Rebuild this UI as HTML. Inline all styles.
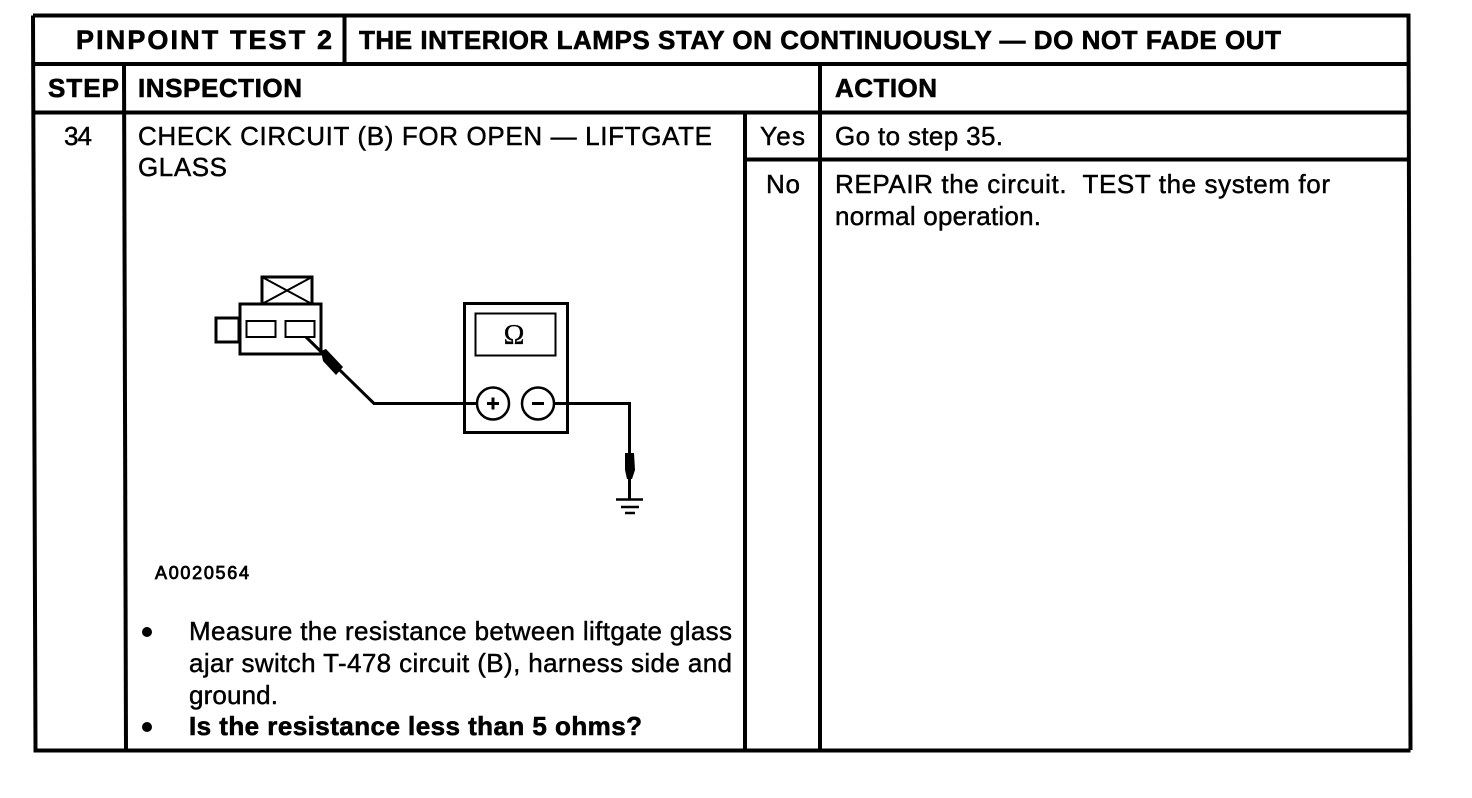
<!DOCTYPE html>
<html>
<head>
<meta charset="utf-8">
<style>
html,body{margin:0;padding:0;background:#fff;width:1472px;height:798px;overflow:hidden}
svg{display:block}
text{font-family:"Liberation Sans",Arial,sans-serif;fill:#000;font-size:26px;stroke:#000;stroke-width:.45px}
.b{font-weight:700;stroke-width:.6px}
</style>
</head>
<body>
<svg width="1472" height="798" viewBox="0 0 1472 798" xmlns="http://www.w3.org/2000/svg">
<rect width="1472" height="798" fill="#fff"/>
<g stroke="#000" fill="none">
  <!-- outer frame -->
  <path d="M33 15.500H1408.500L1410.500 750M33 15.500L35.500 750.500H1410.500" stroke-width="4"/>
  <!-- horizontal rules -->
  <path d="M33.500 64H1408.500" stroke-width="4"/>
  <path d="M34 112.500H1409" stroke-width="4"/>
  <path d="M745 159.500H1409" stroke-width="4"/>
  <!-- vertical rules -->
  <path d="M344.500 15V64" stroke-width="4"/>
  <path d="M124 64L126 750" stroke-width="4"/>
  <path d="M820 64V750" stroke-width="4"/>
  <path d="M745 112V750" stroke-width="4"/>
</g>

<text class="b" x="76" y="49" textLength="256" style="font-size:27px">PINPOINT TEST 2</text>
<text class="b" x="359" y="49" textLength="922">THE INTERIOR LAMPS STAY ON CONTINUOUSLY — DO NOT FADE OUT</text>
<text class="b" x="48" y="97" textLength="71">STEP</text>
<text class="b" x="138" y="97" textLength="164">INSPECTION</text>
<text class="b" x="835" y="97" textLength="102">ACTION</text>

<text x="64" y="145" textLength="28">34</text>
<text x="138" y="145" textLength="574">CHECK CIRCUIT (B) FOR OPEN — LIFTGATE</text>
<text x="138" y="176" textLength="89">GLASS</text>
<text x="760" y="145" textLength="45">Yes</text>
<text x="766" y="193" textLength="34">No</text>
<text x="835" y="145" textLength="168">Go to step 35.</text>
<text x="835" y="193" textLength="495" xml:space="preserve">REPAIR the circuit.  TEST the system for</text>
<text x="835" y="225" textLength="206">normal operation.</text>

<text x="155" y="579" textLength="94" style="font-size:18px;stroke-width:.8px">A0020564</text>

<circle cx="147" cy="632" r="5" fill="#000" stroke="none"/>
<circle cx="147" cy="727" r="5" fill="#000" stroke="none"/>
<text x="189" y="640" textLength="543">Measure the resistance between liftgate glass</text>
<text x="189" y="672" textLength="543">ajar switch T-478 circuit (B), harness side and</text>
<text x="189" y="704" textLength="89">ground.</text>
<text class="b" x="189" y="735" textLength="453">Is the resistance less than 5 ohms?</text>

<!-- connector -->
<g stroke="#000" fill="none" stroke-width="3">
  <rect x="240" y="304" width="81" height="50"/>
  <rect x="262" y="277" width="50" height="27"/>
  <path d="M262 277L312 304M312 277L262 304" stroke-width="2"/>
  <rect x="216" y="318" width="23" height="24"/>
  <rect x="246.500" y="321" width="29" height="16" stroke-width="2"/>
  <rect x="285.500" y="321" width="29" height="16" stroke-width="2"/>
  <path d="M306 337L374 403.500H465" stroke-width="3"/>
  <path d="M321 351L326 349L343 367L336 375L323 361Z" fill="#000" stroke="none"/>
</g>

<!-- meter -->
<g stroke="#000" fill="none">
  <rect x="464.500" y="303.500" width="103" height="129" stroke-width="3"/>
  <rect x="475.500" y="313.500" width="80" height="42" stroke-width="2"/>
  <path d="M465 403.500H478" stroke-width="3"/>
  <circle cx="493" cy="403.500" r="16" stroke-width="2.500" fill="#fff"/>
  <circle cx="538" cy="403.500" r="16" stroke-width="2.500" fill="#fff"/>
  <path d="M487 403.500H499M493 397.500V409.500" stroke-width="3"/>
  <path d="M532 403.500H544" stroke-width="3"/>
  <path d="M554 403.500H629.500V500" stroke-width="3"/>
  <path d="M625 453H634L635 470L632 479H627L625 470Z" fill="#000" stroke="none"/>
  <path d="M616 499.500H643" stroke-width="2.500"/>
  <path d="M621 507H639" stroke-width="2.500"/>
  <path d="M625 513H635" stroke-width="2.500"/>
</g>
<text x="514" y="344" text-anchor="middle" style="font-family:'Liberation Serif',serif;font-size:28px;stroke-width:.3px">Ω</text>
</svg>
</body>
</html>
